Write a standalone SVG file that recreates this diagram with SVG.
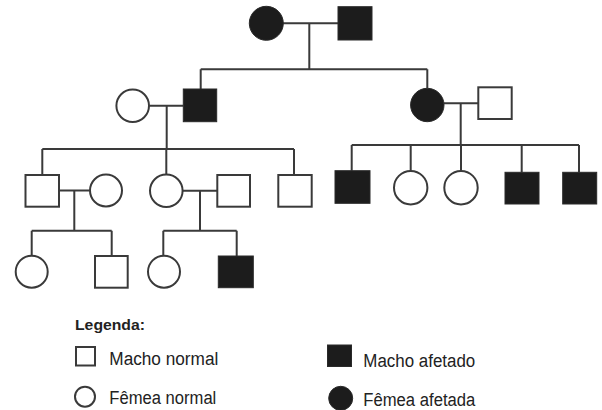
<svg xmlns="http://www.w3.org/2000/svg" width="602" height="410" viewBox="0 0 602 410">
<style>
.ln{fill:none;stroke:#3a3a3a;stroke-width:2}
.m{fill:#fff;stroke:#3a3a3a;stroke-width:2}
.f{fill:#fff;stroke:#3a3a3a;stroke-width:2}
.am{fill:#1c1c1c;stroke:#2a2a2a;stroke-width:1}
.af{fill:#1c1c1c;stroke:#2a2a2a;stroke-width:1}
.t{font-family:"Liberation Sans",Arial,sans-serif;font-size:18px;fill:#222}
.h{font-family:"Liberation Sans",Arial,sans-serif;font-size:15.5px;font-weight:bold;fill:#222}
</style>
<rect width="602" height="410" fill="#fff"/>
<g id="connectors">
<path class="ln" d="M283,23.3H338M309.3,23.3V69.3M200.7,69.3H427.3M200.7,69.3V89M427.3,69.3V88.3"/>
<path class="ln" d="M149.4,105.7H183.3M166.7,105.7V149M42.3,149H294M42.3,149V175M166.3,149V174.4M294,149V175"/>
<path class="ln" d="M444,103.3H478M460.7,103.3V145M351.7,145H579M351.7,145V170.7M410.7,145V171M461,145V171M521.7,145V172.3M579,145V172.3"/>
<path class="ln" d="M59,190.5H90M74.3,190.5V230.7M31.7,230.7H111.7M31.7,230.7V255.7M111.7,230.7V256"/>
<path class="ln" d="M182.6,190.7H217.3M200,190.7V230.7M163.3,230.7H236.7M163.3,230.7V255.7M236.7,230.7V256"/>
</g>
<g id="gen1-female"><circle class="af" cx="266.3" cy="23.3" r="17"/></g>
<g id="gen1-male"><rect class="am" x="338" y="6.7" width="34" height="33.3"/></g>
<g id="gen2-wife"><circle class="f" cx="132.7" cy="105.7" r="16.3"/></g>
<g id="gen2-son"><rect class="am" x="183.3" y="89" width="33.4" height="32.7"/></g>
<g id="gen2-daughter"><circle class="af" cx="427.3" cy="105" r="16.7"/></g>
<g id="gen2-husband"><rect class="m" x="478.3" y="87.3" width="33.4" height="31.7"/></g>
<g id="gen3-m1"><rect class="m" x="25.5" y="175" width="33.5" height="31.7"/></g>
<g id="gen3-f1"><circle class="f" cx="106" cy="190.5" r="16"/></g>
<g id="gen3-f2"><circle class="f" cx="166.3" cy="190.7" r="16.3"/></g>
<g id="gen3-m2"><rect class="m" x="217.3" y="175" width="32.7" height="31.7"/></g>
<g id="gen3-m3"><rect class="m" x="278.3" y="175" width="33.4" height="31.7"/></g>
<g id="gen3-am1"><rect class="am" x="335" y="170.7" width="35" height="32.6"/></g>
<g id="gen3-f3"><circle class="f" cx="410.7" cy="187.7" r="16.7"/></g>
<g id="gen3-f4"><circle class="f" cx="461" cy="187.7" r="16.7"/></g>
<g id="gen3-am2"><rect class="am" x="505" y="172.3" width="34" height="31.7"/></g>
<g id="gen3-am3"><rect class="am" x="562.7" y="172.3" width="34" height="31.7"/></g>
<g id="gen4-f1"><circle class="f" cx="31.7" cy="271.7" r="16"/></g>
<g id="gen4-m1"><rect class="m" x="95" y="256" width="32.7" height="31.7"/></g>
<g id="gen4-f2"><circle class="f" cx="164" cy="271.7" r="16"/></g>
<g id="gen4-am1"><rect class="am" x="218.3" y="256" width="35" height="31.7"/></g>
<g id="legend">
<text class="h" x="75" y="329.5" textLength="70" lengthAdjust="spacingAndGlyphs">Legenda:</text>
<rect class="m" x="76" y="347" width="19" height="18.5"/>
<text class="t" x="109.3" y="365" textLength="109" lengthAdjust="spacingAndGlyphs">Macho normal</text>
<circle class="f" cx="85" cy="396.7" r="10"/>
<text class="t" x="109.3" y="404" textLength="107" lengthAdjust="spacingAndGlyphs">Fêmea normal</text>
<rect class="am" x="327.5" y="345" width="24" height="21.5"/>
<text class="t" x="363.3" y="366.5" textLength="112" lengthAdjust="spacingAndGlyphs">Macho afetado</text>
<circle class="af" cx="340.7" cy="398.3" r="12"/>
<text class="t" x="363.3" y="406" textLength="112" lengthAdjust="spacingAndGlyphs">Fêmea afetada</text>
</g>
</svg>
